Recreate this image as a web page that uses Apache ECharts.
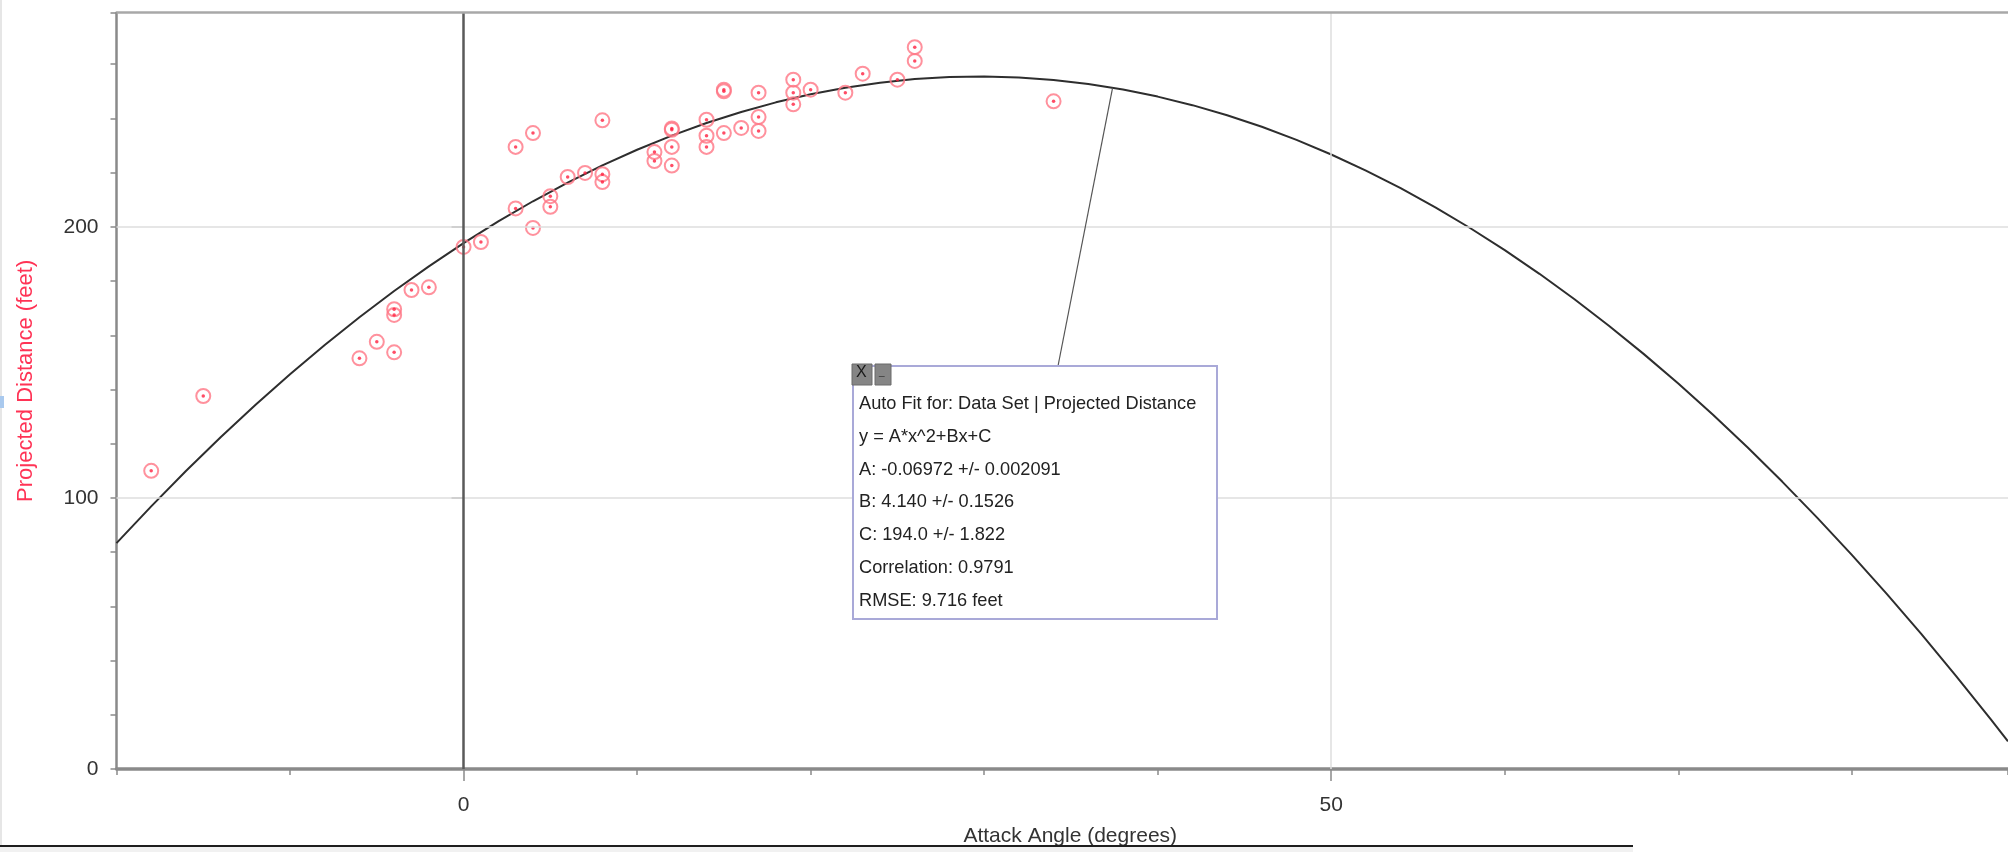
<!DOCTYPE html>
<html>
<head>
<meta charset="utf-8">
<script src="https://cdn.jsdelivr.net/npm/echarts@6/dist/echarts.min.js"></script>
<style>
  html, body { margin: 0; padding: 0; background: #ffffff; }
  #chart { width: 2008px; height: 852px; }
</style>
</head>
<body>
<div id="chart"></div>
<script>
// ---- Data ----
const attackAngle = [-18, -15, -6, -5, -4, -4, -4, -3, -2, 0, 1, 3, 3, 4, 4, 5, 5, 6, 7, 8, 8, 8,
  11, 11, 12, 12, 12, 12, 14, 14, 14, 15, 15, 15, 16, 17, 17, 17, 19, 19, 19, 20, 22, 23, 25, 26, 26, 34];
const projectedDistance = [110.0, 137.6, 151.5, 157.6, 153.7, 169.6, 167.5, 176.7, 177.7, 192.6, 194.4, 206.8, 229.5, 234.6, 199.6, 211.3, 207.4, 218.4, 219.9, 239.3, 219.4, 216.5,
  227.6, 224.3, 236.3, 235.8, 229.5, 222.6, 239.5, 233.6, 229.5, 250.0, 250.6, 234.6, 236.5, 249.5, 240.5, 235.4, 254.3, 249.5, 245.2, 250.6, 249.5, 256.5, 254.3, 266.3, 261.2, 246.3];

// Auto-fit curve as drawn in the reference (y = A*x^2+Bx+C)
const fitX = [-20, -18, -16, -14, -12, -10, -8, -6, -4, -2, 0, 2, 4, 6, 8, 10, 12, 14, 16, 18, 20, 22, 24, 26, 28, 30,
  32, 34, 36, 38, 40, 42, 44, 46, 48, 50, 52, 54, 56, 58, 60, 62, 64, 66, 68, 70, 72, 74, 76, 78, 80, 82, 84, 86, 88, 89];
const fitY = [83.31, 96.89, 109.91, 122.38, 134.28, 145.63, 156.42, 166.65, 176.32, 185.44, 194.00, 202.00, 209.44, 216.33, 222.66, 228.43, 233.64, 238.30, 242.39, 245.93, 248.91, 251.34, 253.20, 254.51, 255.26, 255.45,
  255.09, 254.16, 252.68, 250.64, 248.05, 244.89, 241.18, 236.91, 232.09, 226.70, 220.76, 214.26, 207.20, 199.58, 191.41, 182.68, 173.39, 163.54, 153.14, 142.17, 130.65, 118.57, 105.94, 92.74, 78.99, 64.68, 49.82, 34.39, 18.41, 10.21];

const xTickLabels = [0, 50];
const yTickLabels = [0, 100, 200];
const yGridLines = [100, 200];
const xGridLines = [50];

const fitBoxLines = [
  'Auto Fit for: Data Set | Projected Distance',
  'y = A*x^2+Bx+C',
  'A: -0.06972 +/- 0.002091',
  'B: 4.140 +/- 0.1526',
  'C: 194.0 +/- 1.822',
  'Correlation: 0.9791',
  'RMSE: 9.716 feet'
];
const leaderPoint = [37.4, 251.3];

// ---- Build chart ----
const FONT = 'Liberation Sans, Arial, sans-serif';
const X_MIN = -20, X_MAX = 89, Y_MIN = 0, Y_MAX = 279;

const scatterData = attackAngle.map((x, i) => [x, projectedDistance[i]]);
const fitData = fitX.map((x, i) => [x, fitY[i]]);

const gridLine = { color: '#dedede', width: 1.5, type: 'solid' };
const markLineData = [];
yGridLines.forEach(v => markLineData.push({ yAxis: v, lineStyle: gridLine }));
xGridLines.forEach(v => markLineData.push({ xAxis: v, lineStyle: gridLine }));
markLineData.push({ xAxis: 0, lineStyle: { color: '#5a5a5a', width: 2.5, type: 'solid' } });
markLineData.push({ yAxis: Y_MAX, lineStyle: { color: '#a8a8a8', width: 2.5, type: 'solid' } });

const boxX = 853, boxY = 366, boxW = 364, boxH = 253;
const textGraphics = fitBoxLines.map((t, i) => ({
  type: 'text',
  left: 859,
  top: 395 + i * 32.8,
  z: 102,
  style: { text: t, fill: '#222', font: '18.2px ' + FONT }
}));

const chart = echarts.init(document.getElementById('chart'), null, { renderer: 'canvas' });
chart.setOption({
  animation: false,
  backgroundColor: '#ffffff',
  grid: { left: 116.5, top: 12.7, right: 0, bottom: 82.7, containLabel: false },
  xAxis: [
    {
      type: 'value', min: X_MIN, max: X_MAX, interval: 10, position: 'bottom',
      axisLine: { show: true, onZero: false, lineStyle: { color: '#8a8a8a', width: 3.5 } },
      axisTick: { show: true, length: 6, lineStyle: { color: '#8a8a8a', width: 1.5 } },
      axisLabel: { customValues: xTickLabels, margin: 26, fontSize: 21, color: '#333', fontFamily: FONT },
      splitLine: { show: false },
      name: 'Attack Angle (degrees)', nameLocation: 'middle', nameGap: 57,
      nameTextStyle: { fontSize: 21, color: '#333', fontFamily: FONT, padding: [0, 0, 0, 16] }
    },
    {
      type: 'value', min: X_MIN, max: X_MAX, position: 'bottom', gridIndex: 0,
      axisLine: { show: false },
      axisTick: { show: true, customValues: xTickLabels, length: 12, lineStyle: { color: '#8a8a8a', width: 1.5 } },
      axisLabel: { show: false },
      splitLine: { show: false }
    }
  ],
  yAxis: [
    {
      type: 'value', min: Y_MIN, max: Y_MAX, interval: 20, position: 'left',
      axisLine: { show: true, onZero: false, lineStyle: { color: '#8a8a8a', width: 2.5 } },
      axisTick: { show: true, length: 6, lineStyle: { color: '#8a8a8a', width: 1.5 } },
      axisLabel: { customValues: yTickLabels, margin: 18, fontSize: 21, color: '#333', fontFamily: FONT },
      splitLine: { show: false },
      name: 'Projected Distance (feet)', nameLocation: 'middle', nameGap: 80,
      nameTextStyle: { fontSize: 22, color: '#ff3355', fontFamily: FONT, padding: [0, 0, 0, 20] }
    },
    {
      type: 'value', min: Y_MIN, max: Y_MAX, position: 'left', gridIndex: 0,
      axisLine: { show: false },
      axisTick: { show: true, customValues: yTickLabels, length: 12, lineStyle: { color: '#8a8a8a', width: 1.5 } },
      axisLabel: { show: false },
      splitLine: { show: false }
    }
  ],
  series: [
    {
      name: 'grid', type: 'line', data: [], z: 1, silent: true,
      markLine: { silent: true, symbol: 'none', label: { show: false }, animation: false, data: markLineData }
    },
    {
      name: 'Auto Fit', type: 'line', data: fitData, smooth: false, showSymbol: false, z: 2,
      lineStyle: { color: '#2e2e2e', width: 2 },
      markLine: {
        silent: true, symbol: 'none', label: { show: false }, animation: false,
        data: [[{ coord: leaderPoint }, { x: 1058, y: boxY }]],
        lineStyle: { color: '#555', width: 1.2, type: 'solid' }
      }
    },
    {
      name: 'Projected Distance', type: 'scatter', data: scatterData, z: 3,
      symbol: 'circle', symbolSize: 14,
      itemStyle: { color: 'rgba(255,255,255,0)', borderColor: '#ff7585', borderWidth: 2 }
    },
    {
      name: 'Projected Distance dot', type: 'scatter', data: scatterData, z: 4,
      symbol: 'circle', symbolSize: 3.5,
      itemStyle: { color: '#ff2040' }
    }
  ],
  graphic: [
    { type: 'rect', shape: { x: 0, y: 0, width: 2, height: 846 }, style: { fill: '#e6e6e6' }, z: 50 },
    { type: 'rect', shape: { x: 0, y: 396, width: 4, height: 12 }, style: { fill: '#a9c9ee' }, z: 51 },
    { type: 'rect', shape: { x: 0, y: 847, width: 1633, height: 5 }, style: { fill: '#f1f1f1' }, z: 50 },
    { type: 'line', shape: { x1: 0, y1: 846, x2: 1633, y2: 846 }, style: { stroke: '#1e1e1e', lineWidth: 2 }, z: 51 },
    { type: 'rect', shape: { x: boxX, y: boxY, width: boxW, height: boxH }, style: { fill: '#ffffff', stroke: '#a9a9d8', lineWidth: 2 }, z: 100 },
    { type: 'rect', shape: { x: 852, y: 364, width: 20, height: 21 }, style: { fill: '#858585', stroke: '#6a6a6a', lineWidth: 1 }, z: 101 },
    { type: 'text', left: 856, top: 365, z: 102, style: { text: 'X', fill: '#1a1a1a', font: '16px ' + FONT } },
    { type: 'rect', shape: { x: 875, y: 364, width: 16, height: 21 }, style: { fill: '#858585', stroke: '#6a6a6a', lineWidth: 1 }, z: 101 },
    { type: 'text', left: 879, top: 367, z: 102, style: { text: '_', fill: '#333', font: '10px ' + FONT } }
  ].concat(textGraphics)
});
</script>
</body>
</html>
